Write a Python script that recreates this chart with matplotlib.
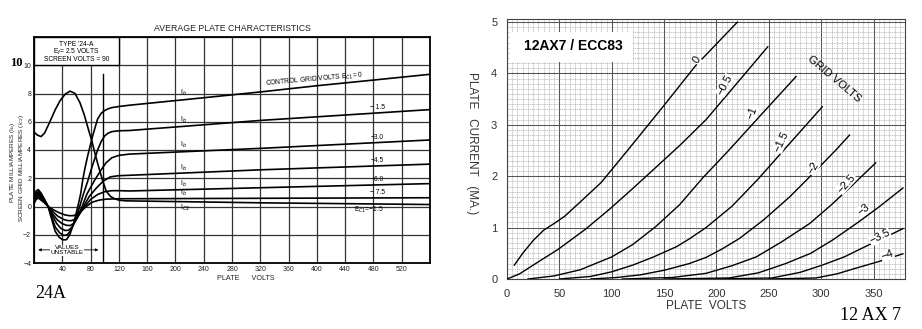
import numpy as np
import matplotlib
matplotlib.use('Agg')
import matplotlib.pyplot as plt
from matplotlib.patches import Rectangle

plt.rcParams['font.family'] = ['Liberation Sans', 'DejaVu Sans']
plt.rcParams['axes.unicode_minus'] = True

# ---------------- 24A : average plate characteristics ----------------
# plate current curves (plate volts, mA), control grid volts 0 .. -7.5
ib_0_v = [0, 3, 6, 10, 15, 20, 25, 30, 36, 41, 46, 51, 56, 62, 66, 69, 72, 76, 80, 83, 87, 90, 95, 100, 105, 110, 120, 135, 240, 322, 400, 480, 560]
ib_0_i = [0.75, 1.1, 1.2, 0.95, 0.5, 0.0, -0.9, -1.76, -2.2, -2.36, -2.35, -1.95, -1.2, 0.0, 0.9, 1.9, 2.7, 3.6, 4.4, 5.0, 5.7, 6.2, 6.6, 6.8, 6.92, 7.0, 7.08, 7.17, 7.7, 8.12, 8.55, 8.95, 9.36]

ib_15_v = [0, 3, 6, 10, 15, 20, 25, 30, 36, 42, 47, 52, 58, 64, 70, 76, 82, 86, 90, 95, 100, 105, 110, 120, 135, 322, 560]
ib_15_i = [0.6, 0.95, 1.05, 0.85, 0.45, 0.0, -0.75, -1.45, -1.85, -2.05, -2.0, -1.7, -1.0, -0.1, 0.9, 1.8, 2.8, 3.4, 4.0, 4.6, 5.0, 5.2, 5.3, 5.36, 5.38, 6.1, 6.86]

ib_30_v = [0, 3, 6, 10, 15, 20, 26, 32, 38, 44, 49, 54, 60, 68, 75, 85, 95, 102, 110, 120, 135, 322, 560]
ib_30_i = [0.5, 0.85, 0.95, 0.75, 0.4, 0.0, -0.65, -1.2, -1.55, -1.7, -1.68, -1.45, -0.9, 0.0, 0.9, 1.8, 2.6, 3.1, 3.45, 3.62, 3.71, 4.12, 4.71]

ib_45_v = [0, 3, 6, 10, 15, 20, 26, 33, 40, 46, 51, 56, 62, 70, 78, 88, 98, 108, 120, 135, 322, 560]
ib_45_i = [0.4, 0.72, 0.85, 0.65, 0.35, 0.0, -0.5, -0.95, -1.22, -1.33, -1.35, -1.2, -0.75, 0.0, 0.7, 1.3, 1.8, 2.1, 2.18, 2.21, 2.6, 3.0]

ib_60_v = [0, 3, 6, 10, 15, 20, 27, 34, 42, 48, 53, 58, 64, 72, 80, 90, 100, 110, 120, 135, 322, 560]
ib_60_i = [0.3, 0.6, 0.72, 0.55, 0.3, 0.0, -0.38, -0.7, -0.92, -1.0, -1.0, -0.9, -0.55, 0.0, 0.5, 0.85, 1.05, 1.12, 1.12, 1.1, 1.33, 1.62]

ib_75_v = [0, 3, 6, 10, 15, 20, 28, 36, 44, 50, 55, 60, 66, 74, 82, 92, 102, 120, 135, 560]
ib_75_i = [0.2, 0.5, 0.6, 0.45, 0.25, 0.0, -0.25, -0.45, -0.6, -0.65, -0.65, -0.58, -0.35, 0.0, 0.3, 0.45, 0.52, 0.55, 0.55, 0.62]

# screen grid current
ic2_v = [0, 5, 10, 15, 22, 30, 37, 44, 51, 58, 65, 71, 77, 82, 87, 92, 97, 102, 108, 114, 120, 130, 322, 560]
ic2_i = [5.26, 5.05, 4.95, 5.2, 5.95, 6.85, 7.5, 7.95, 8.17, 8.0, 7.35, 6.5, 5.45, 4.6, 3.6, 2.7, 1.85, 1.1, 0.72, 0.55, 0.45, 0.4, 0.26, 0.14]

left_xticks = [40, 80, 120, 160, 200, 240, 280, 320, 360, 400, 440, 480, 520]
left_yticks = [-4, -2, 0, 2, 4, 6, 8, 10]
left_end_labels = ['\u2212 1.5', '\u22123.0', '\u22124.5', '\u22126.0', '\u2212 7.5']
left_end_label_y = [6.98, 4.9, 3.24, 1.88, 0.98]
ib_label_y = [8.05, 6.1, 4.36, 2.7, 1.6, 0.93]

# ---------------- 12AX7 / ECC83 ----------------
g0_v = [7, 15, 25, 35, 45, 55, 70, 90, 115, 150, 180, 220]
g0_i = [0.27, 0.5, 0.75, 0.95, 1.08, 1.22, 1.5, 1.88, 2.5, 3.38, 4.15, 5.0]
g05_v = [0, 12, 25, 49, 75, 98, 120, 142, 165, 190, 215, 249]
g05_i = [0.0, 0.1, 0.27, 0.58, 0.97, 1.36, 1.76, 2.17, 2.6, 3.1, 3.7, 4.52]
g1_v = [20, 45, 70, 100, 120, 142, 165, 187, 212, 245, 276]
g1_i = [0.0, 0.06, 0.18, 0.43, 0.67, 1.02, 1.45, 1.97, 2.51, 3.25, 3.94]
g15_v = [50, 80, 100, 120, 140, 162, 174, 190, 215, 240, 263, 301]
g15_i = [0.0, 0.05, 0.14, 0.27, 0.43, 0.63, 0.78, 1.0, 1.42, 1.95, 2.48, 3.35]
g2_v = [80, 105, 127, 150, 174, 190, 205, 222, 245, 270, 292, 314, 327]
g2_i = [0.0, 0.03, 0.08, 0.17, 0.3, 0.42, 0.58, 0.79, 1.15, 1.6, 2.05, 2.51, 2.8]
g25_v = [110, 158, 174, 190, 215, 238, 262, 289, 310, 330, 352]
g25_i = [0.0, 0.03, 0.07, 0.11, 0.26, 0.43, 0.72, 1.08, 1.45, 1.83, 2.26]
g3_v = [150, 212, 240, 266, 290, 311, 335, 355, 378]
g3_i = [0.0, 0.02, 0.12, 0.3, 0.5, 0.76, 1.1, 1.4, 1.77]
g35_v = [200, 253, 280, 301, 322, 342, 360, 378]
g35_i = [0.0, 0.02, 0.13, 0.27, 0.43, 0.63, 0.8, 0.98]
g4_v = [250, 295, 315, 333, 355, 378]
g4_i = [0.0, 0.02, 0.1, 0.21, 0.34, 0.49]

grid_names = ['0', '\u22120.5', '\u22121', '\u22121.5', '\u22122', '\u22122.5', '\u22123', '\u22123.5', '\u22124']
name_v = [181, 208, 234, 262, 292, 324, 340, 356, 363]
name_i = [4.26, 3.77, 3.23, 2.67, 2.16, 1.86, 1.34, 0.82, 0.47]
name_rot = [55, 62, 68, 65, 58, 48, 38, 26, 20]

right_xticks = [0, 50, 100, 150, 200, 250, 300, 350]
right_yticks = [0, 1, 2, 3, 4, 5]

fig = plt.figure(figsize=(9.22, 3.29), dpi=100)

# ===== left chart =====
ax = fig.add_axes([34/922, 1-263/329, 396/922, 226/329])
ax.set_xlim(0, 560)
ax.set_ylim(-4, 12)
ax.set_xticks(np.arange(0, 561, 40))
ax.set_yticks(np.arange(-4, 13, 2))
ax.grid(True, color='#333333', lw=0.9)
ax.set_xticklabels([str(t) if t in left_xticks else '' for t in np.arange(0, 561, 40)])
ax.set_yticklabels([str(t).replace('-', '\u2212') if t in left_yticks else '' for t in np.arange(-4, 13, 2)])
ax.tick_params(length=0, labelsize=5, pad=2, colors='#222222')
for s in ax.spines.values():
    s.set_linewidth(1.3)

ax.add_patch(Rectangle((0, 10), 120, 2, facecolor='white', edgecolor='black', lw=1.0, zorder=2))
ax.text(60, 11.5, "TYPE '24-A", ha='center', va='center', fontsize=4.8, zorder=3)
ax.text(60, 10.98, "E$_f$= 2.5 VOLTS", ha='center', va='center', fontsize=4.8, zorder=3)
ax.text(60, 10.43, "SCREEN VOLTS = 90", ha='center', va='center', fontsize=4.8, zorder=3)

lw = 1.2
for v, i in [(ib_0_v, ib_0_i), (ib_15_v, ib_15_i), (ib_30_v, ib_30_i), (ib_45_v, ib_45_i),
             (ib_60_v, ib_60_i), (ib_75_v, ib_75_i), (ic2_v, ic2_i)]:
    ax.plot(v, i, color='black', lw=lw, zorder=4)

ax.plot([97, 97], [-4, 9.35], color='black', lw=1.0, zorder=3)
ax.annotate('', xy=(2, -3.07), xytext=(95, -3.07),
            arrowprops=dict(arrowstyle='<|-|>', lw=0.6, color='black', mutation_scale=4))
ax.text(47, -3.1, 'VALUES\nUNSTABLE', ha='center', va='center', fontsize=4.6, linespacing=0.95,
        bbox=dict(facecolor='white', edgecolor='none', pad=0.3), zorder=5)

for y in ib_label_y:
    ax.text(212, y, 'I$_b$', ha='center', va='center', fontsize=5, zorder=5)
ax.text(214, -0.12, 'I$_{C2}$', ha='center', va='center', fontsize=5, zorder=5)
ax.text(397, 9.0, 'CONTROL GRID VOLTS E$_{C1}$= 0', ha='center', va='center', fontsize=4.8,
        rotation=5, zorder=5)
for lab, y in zip(left_end_labels, left_end_label_y):
    ax.text(486, y, lab, ha='center', va='center', fontsize=4.8, zorder=5)
ax.text(474, -0.26, 'E$_{C1}$=\u22121.5', ha='center', va='center', fontsize=4.8, zorder=5)

ax.text(280, 12.6, 'AVERAGE PLATE CHARACTERISTICS', ha='center', va='center', fontsize=6.3,
        color='#222222')
ax.text(300, -5.1, 'PLATE      VOLTS', ha='center', va='center', fontsize=5.2, color='#222222')
fig.text(12.5/922, 1-162/329, 'PLATE MILLIAMPERES (I$_b$)', rotation=90, ha='center', va='center',
         fontsize=4.6, color='#222222')
fig.text(21/922, 1-168/329, 'SCREEN GRID MILLIAMPERES (I$_{C2}$)', rotation=90, ha='center',
         va='center', fontsize=4.6, color='#222222')
fig.text(16/922, 1-63/329, '10', ha='center', va='center', fontsize=9, fontweight='bold',
         family=['Liberation Serif', 'DejaVu Serif'])
fig.text(51/922, 1-293/329, '24A', ha='center', va='center', fontsize=13,
         family=['Liberation Serif', 'DejaVu Serif'])

# ===== right chart =====
bx = fig.add_axes([507/922, 1-279/329, 398/922, 260/329])
bx.set_xlim(0, 380)
bx.set_ylim(0, 5.06)
bx.set_xticks(right_xticks)
bx.set_yticks(right_yticks)
bx.set_xticks(np.arange(0, 381, 5), minor=True)
bx.set_yticks(np.arange(0, 5.06, 0.1), minor=True)
bx.grid(True, which='minor', color='#a8a8a8', lw=0.45, ls=(0, (2, 1)))
bx.grid(True, which='major', color='#555555', lw=0.75)
bx.tick_params(which='both', length=0)
bx.tick_params(which='major', labelsize=8, pad=7, colors='#333333')
for s in bx.spines.values():
    s.set_linewidth(0.8)
    s.set_color('#444444')

for v, i in [(g0_v, g0_i), (g05_v, g05_i), (g1_v, g1_i), (g15_v, g15_i), (g2_v, g2_i),
             (g25_v, g25_i), (g3_v, g3_i), (g35_v, g35_i), (g4_v, g4_i)]:
    bx.plot(v, i, color='black', lw=1.0, zorder=3)

for lab, v, i, r in zip(grid_names, name_v, name_i, name_rot):
    bx.text(v, i, lab, ha='center', va='center', fontsize=8, rotation=r, zorder=5,
            bbox=dict(facecolor='white', edgecolor='none', pad=0.2))
bx.text(312, 3.89, 'GRID VOLTS', ha='center', va='center', fontsize=8, rotation=-40, zorder=5)

bx.add_patch(Rectangle((3, 4.22), 117, 0.58, facecolor='white', edgecolor='none', zorder=4))
bx.text(63, 4.53, '12AX7 / ECC83', ha='center', va='center', fontsize=10, fontweight='bold', zorder=5)

bx.set_xlabel('PLATE  VOLTS', fontsize=8.5, color='#333333', labelpad=1)
fig.text(472/922, 1-143/329, 'PLATE   CURRENT   (MA.)', rotation=-90, ha='center', va='center',
         fontsize=8.5, color='#333333')
fig.text(870/922, 1-315/329, '12 AX 7', ha='center', va='center', fontsize=13,
         family=['Liberation Serif', 'DejaVu Serif'])

fig.savefig('out.png', dpi=100)
